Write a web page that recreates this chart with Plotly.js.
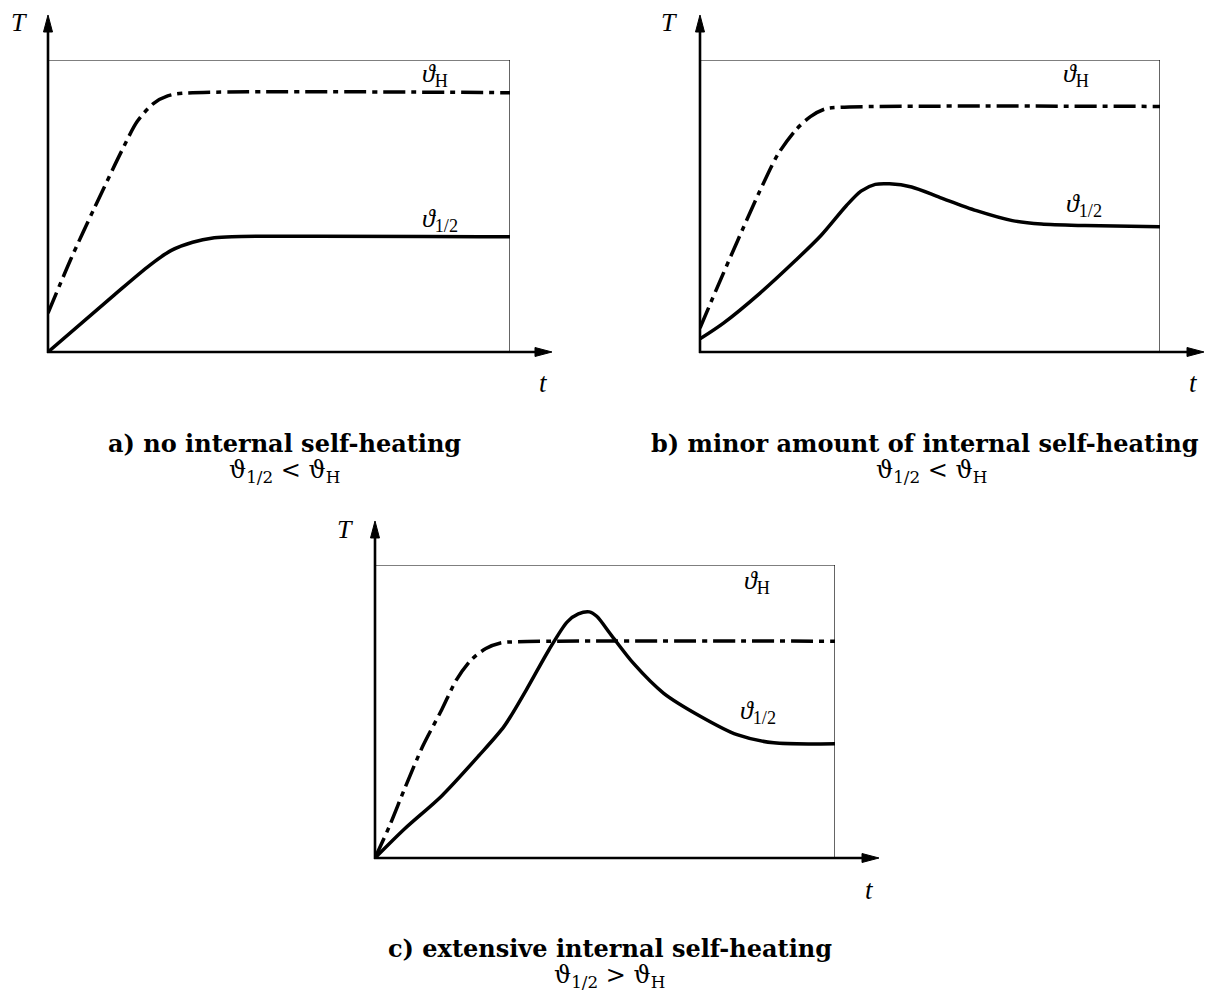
<!DOCTYPE html>
<html>
<head>
<meta charset="utf-8">
<script src="https://cdn.plot.ly/plotly-3.0.1.min.js"></script>
<style>html,body{margin:0;padding:0;background:#fff;}#chart{width:1219px;height:996px;}</style>
</head>
<body>
<div id="chart"></div>
<script>
// ---- data (normalised units: time 0..10, temperature 0..10 = box top) ----
const aDashT = [0, 0.50, 1.01, 1.59, 1.93, 2.28, 2.59, 2.90, 10];
const aDashV = [1.33, 3.20, 4.95, 6.87, 7.89, 8.51, 8.77, 8.86, 8.88];
const aSolidT = [0, 1.43, 2.20, 2.67, 3.13, 3.60, 3.98, 10];
const aSolidV = [0, 1.95, 2.97, 3.48, 3.76, 3.91, 3.95, 3.95];

const bDashT = [0, 0.35, 0.82, 1.30, 1.69, 2.08, 2.40, 2.71, 3.02, 10];
const bDashV = [0.82, 2.12, 3.82, 5.51, 6.76, 7.60, 8.06, 8.32, 8.38, 8.41];
const bSolidT = [0, 0.51, 1.30, 2.08, 2.63, 3.18, 3.50, 3.81, 4.12, 4.60, 5.22, 6.01, 6.79, 7.42, 8.37, 10];
const bSolidV = [0.45, 0.99, 2.01, 3.14, 3.99, 5.01, 5.51, 5.74, 5.76, 5.65, 5.29, 4.84, 4.50, 4.38, 4.33, 4.29];

const cDashT = [0, 0.32, 0.64, 1.04, 1.45, 1.77, 2.09, 2.41, 2.73, 3.05, 10];
const cDashV = [0, 1.11, 2.35, 3.82, 5.06, 6.08, 6.76, 7.15, 7.34, 7.38, 7.40];
const cSolidT = [0, 0.64, 1.45, 2.25, 2.81, 3.29, 3.78, 4.18, 4.42, 4.66, 4.82, 5.14, 5.62, 6.27, 7.07, 7.87, 8.67, 10];
const cSolidV = [0, 0.99, 2.12, 3.48, 4.50, 5.74, 7.10, 8.06, 8.33, 8.40, 8.25, 7.60, 6.64, 5.63, 4.84, 4.21, 3.93, 3.90];

const captions = ["a) no internal self-heating", "b) minor amount of internal self-heating", "c) extensive internal self-heating"];
const relations = ["ϑ<sub>1/2</sub> &lt; ϑ<sub>H</sub>", "ϑ<sub>1/2</sub> &lt; ϑ<sub>H</sub>", "ϑ<sub>1/2</sub> &gt; ϑ<sub>H</sub>"];
const labelH = "<i>ϑ</i><sub>H</sub>";
const labelHalf = "<i>ϑ</i><sub>1/2</sub>";
const axisT = "T";
const axisTime = "t";

// ---- layout helpers ----
const W = 1219, H = 996;
const px = v => v / W;
const py = v => 1 - v / H;

const panels = [
  {xa: 'x', ya: 'y', x0: 48, x1: 510, y0: 352, y1: 60, dashT: aDashT, dashV: aDashV, solT: aSolidT, solV: aSolidV,
   Tpos: [19, 23], tpos: [543, 383], Hpos: [435, 75], halfPos: [440, 220], cap: [284, 443], rel: [284, 471]},
  {xa: 'x2', ya: 'y2', x0: 700, x1: 1160, y0: 352, y1: 60, dashT: bDashT, dashV: bDashV, solT: bSolidT, solV: bSolidV,
   Tpos: [669, 23], tpos: [1193, 383], Hpos: [1076, 75], halfPos: [1084, 205], cap: [925, 443], rel: [931, 471]},
  {xa: 'x3', ya: 'y3', x0: 375, x1: 835, y0: 858, y1: 565, dashT: cDashT, dashV: cDashV, solT: cSolidT, solV: cSolidV,
   Tpos: [345, 529], tpos: [870, 890], Hpos: [757, 582], halfPos: [758, 712], cap: [610, 948], rel: [609, 976]}
];

const traces = [];
const shapes = [];
const annotations = [];
const layout = {
  width: W, height: H, margin: {l: 0, r: 0, t: 0, b: 0},
  paper_bgcolor: '#fff', plot_bgcolor: 'rgba(0,0,0,0)', showlegend: false,
  font: {family: 'Liberation Serif, serif', color: '#000'}
};

const P = (x, y) => px(x).toFixed(5) + ',' + py(y).toFixed(5);

panels.forEach((p, i) => {
  const sfx = i === 0 ? '' : String(i + 1);
  const axOpts = {range: [0, 10], showgrid: false, zeroline: false, showticklabels: false, showline: false, ticks: '', fixedrange: true};
  layout['xaxis' + sfx] = Object.assign({}, axOpts, {domain: [px(p.x0), px(p.x1)], anchor: 'y' + sfx});
  layout['yaxis' + sfx] = Object.assign({}, axOpts, {domain: [py(p.y0), py(p.y1)], anchor: 'x' + sfx});

  traces.push({x: p.dashT, y: p.dashV, xaxis: p.xa, yaxis: p.ya, mode: 'lines', cliponaxis: false,
    line: {color: '#000', width: 3.5, shape: 'spline', smoothing: 0.8, dash: '22px,6px,5px,6px'}, hoverinfo: 'skip'});
  traces.push({x: p.solT, y: p.solV, xaxis: p.xa, yaxis: p.ya, mode: 'lines', cliponaxis: false,
    line: {color: '#000', width: 3.5, shape: 'spline', smoothing: 0.8}, hoverinfo: 'skip'});

  // thin frame
  shapes.push({type: 'rect', xref: p.xa, yref: p.ya, x0: 0, y0: 0, x1: 10, y1: 10, line: {color: '#000', width: 1.2}, layer: 'below'});

  // axes with arrows (paper coordinates)
  const xTip = p.x0 + 504, yTip = p.y0 - 337;
  shapes.push({type: 'line', xref: 'paper', yref: 'paper', x0: px(p.x0 - 1), y0: py(p.y0), x1: px(xTip - 10), y1: py(p.y0), line: {color: '#000', width: 2.6}});
  shapes.push({type: 'line', xref: 'paper', yref: 'paper', x0: px(p.x0), y0: py(p.y0 + 1), x1: px(p.x0), y1: py(yTip + 10), line: {color: '#000', width: 2.6}});
  shapes.push({type: 'path', xref: 'paper', yref: 'paper', fillcolor: '#000', line: {color: '#000', width: 1},
    path: 'M' + P(xTip, p.y0) + 'L' + P(xTip - 17, p.y0 - 4.5) + 'L' + P(xTip - 17, p.y0 + 4.5) + 'Z'});
  shapes.push({type: 'path', xref: 'paper', yref: 'paper', fillcolor: '#000', line: {color: '#000', width: 1},
    path: 'M' + P(p.x0, yTip) + 'L' + P(p.x0 - 4.5, yTip + 17) + 'L' + P(p.x0 + 4.5, yTip + 17) + 'Z'});

  const lab = (pos, text, size, fam) => annotations.push({xref: 'paper', yref: 'paper', x: px(pos[0]), y: py(pos[1]),
    xanchor: 'center', yanchor: 'middle', showarrow: false, text: text,
    font: {size: size, color: '#000', family: fam || 'Liberation Serif, serif'}});
  lab(p.Tpos, '<i>' + axisT + '</i>', 26);
  lab(p.tpos, '<i>' + axisTime + '</i>', 27);
  lab(p.Hpos, labelH, 26);
  lab(p.halfPos, labelHalf, 26);
  lab(p.cap, '<b>' + captions[i] + '</b>', 24, 'DejaVu Serif, serif');
  lab(p.rel, relations[i], 24, 'DejaVu Serif, serif');
});

layout.shapes = shapes;
layout.annotations = annotations;
Plotly.newPlot('chart', traces, layout, {staticPlot: true, displayModeBar: false});
</script>
</body>
</html>
